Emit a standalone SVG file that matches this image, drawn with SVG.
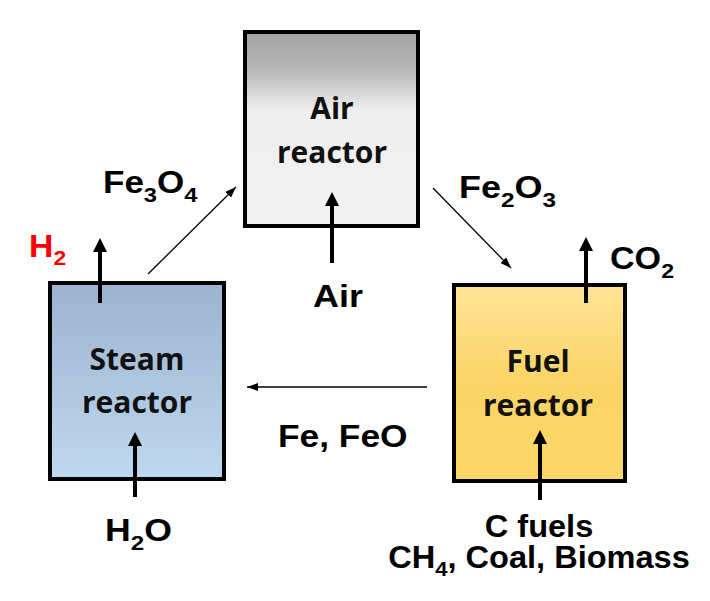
<svg xmlns="http://www.w3.org/2000/svg" width="710" height="601" viewBox="0 0 710 601">
  <defs>
    <linearGradient id="gAir" x1="0" y1="0" x2="0" y2="1">
      <stop offset="0" stop-color="#a4a4a4"/>
      <stop offset="0.18" stop-color="#b4b4b4"/>
      <stop offset="0.4" stop-color="#eeeeee"/>
      <stop offset="1" stop-color="#f2f2f2"/>
    </linearGradient>
    <linearGradient id="gSteam" x1="0" y1="0" x2="0" y2="1">
      <stop offset="0" stop-color="#9cb4cf"/>
      <stop offset="1" stop-color="#bed8ef"/>
    </linearGradient>
    <linearGradient id="gFuel" x1="0" y1="0" x2="0" y2="1">
      <stop offset="0" stop-color="#ffe498"/>
      <stop offset="0.5" stop-color="#fbd466"/>
      <stop offset="1" stop-color="#fdd668"/>
    </linearGradient>
    <marker id="headThick" viewBox="0 0 14 14" refX="6" refY="7" markerWidth="14" markerHeight="14" markerUnits="userSpaceOnUse" orient="auto">
      <path d="M0,0 L14,7 L0,14 z" fill="#000"/>
    </marker>
    <marker id="headThin" viewBox="0 0 11 8" refX="11" refY="4" markerWidth="11" markerHeight="8" markerUnits="userSpaceOnUse" orient="auto">
      <path d="M0,0 L11,4 L0,8 z" fill="#000"/>
    </marker>
  </defs>
  <style>
    .box { stroke: #000; stroke-width: 4; }
    .inner { font-family: "Open Sans", "Noto Sans", sans-serif; font-weight: bold; font-size: 30px; fill: #111; text-anchor: middle; }
    .lbl { font-family: "Liberation Sans", Arial, sans-serif; font-weight: bold; font-size: 31px; fill: #000; }
    .sub { font-size: 21px; }
    .thick { stroke: #000; stroke-width: 4; fill: none; marker-end: url(#headThick); }
    .thin { stroke: #000; stroke-width: 1.3; fill: none; marker-end: url(#headThin); }
  </style>
  <rect width="710" height="601" fill="#fff"/>

  <g id="air-reactor">
    <rect class="box" x="245" y="32" width="173" height="194" fill="url(#gAir)"/>
    <text class="inner" x="332" y="119">Air</text>
    <text class="inner" x="332" y="163">reactor</text>
  </g>

  <g id="steam-reactor">
    <rect class="box" x="50" y="283" width="174" height="196" fill="url(#gSteam)"/>
    <text class="inner" x="137" y="370">Steam</text>
    <text class="inner" x="137" y="413">reactor</text>
  </g>

  <g id="fuel-reactor">
    <rect class="box" x="454" y="285" width="171" height="196" fill="url(#gFuel)"/>
    <text class="inner" x="538" y="372">Fuel</text>
    <text class="inner" x="538" y="416">reactor</text>
  </g>

  <g id="connectors">
    <line class="thick" x1="332" y1="263" x2="332" y2="200"/>
    <line class="thick" x1="100" y1="303" x2="100" y2="246"/>
    <line class="thick" x1="586" y1="303" x2="586" y2="245"/>
    <line class="thick" x1="135" y1="497" x2="135" y2="440"/>
    <line class="thick" x1="540" y1="500" x2="540" y2="438"/>
    <line class="thin" x1="148" y1="274" x2="236" y2="187"/>
    <line class="thin" x1="433" y1="188" x2="511" y2="268"/>
    <line class="thin" x1="427" y1="387" x2="247" y2="387"/>
  </g>

  <g id="labels">
    <text class="lbl" transform="translate(103,193) scale(1.13,1)">Fe<tspan class="sub" dy="9">3</tspan><tspan dy="-9">O</tspan><tspan class="sub" dy="9">4</tspan></text>
    <text class="lbl" transform="translate(459,198) scale(1.16,1)">Fe<tspan class="sub" dy="9">2</tspan><tspan dy="-9">O</tspan><tspan class="sub" dy="9">3</tspan></text>
    <text class="lbl" transform="translate(29,257) scale(1.09,1)" style="fill:#ff0000">H<tspan class="sub" dy="8">2</tspan></text>
    <text class="lbl" transform="translate(610,269) scale(1.1,1)">CO<tspan class="sub" dy="9">2</tspan></text>
    <text class="lbl" transform="translate(338,307) scale(1.16,1)" text-anchor="middle">Air</text>
    <text class="lbl" transform="translate(278,447) scale(1.14,1)">Fe, FeO</text>
    <text class="lbl" transform="translate(105,541) scale(1.15,1)">H<tspan class="sub" dy="9">2</tspan><tspan dy="-9">O</tspan></text>
    <text class="lbl" transform="translate(539,537) scale(1.05,1)" text-anchor="middle">C fuels<tspan x="0" dy="31">CH</tspan><tspan class="sub" dy="8">4</tspan><tspan dy="-8">, Coal, Biomass</tspan></text>
  </g>
</svg>
